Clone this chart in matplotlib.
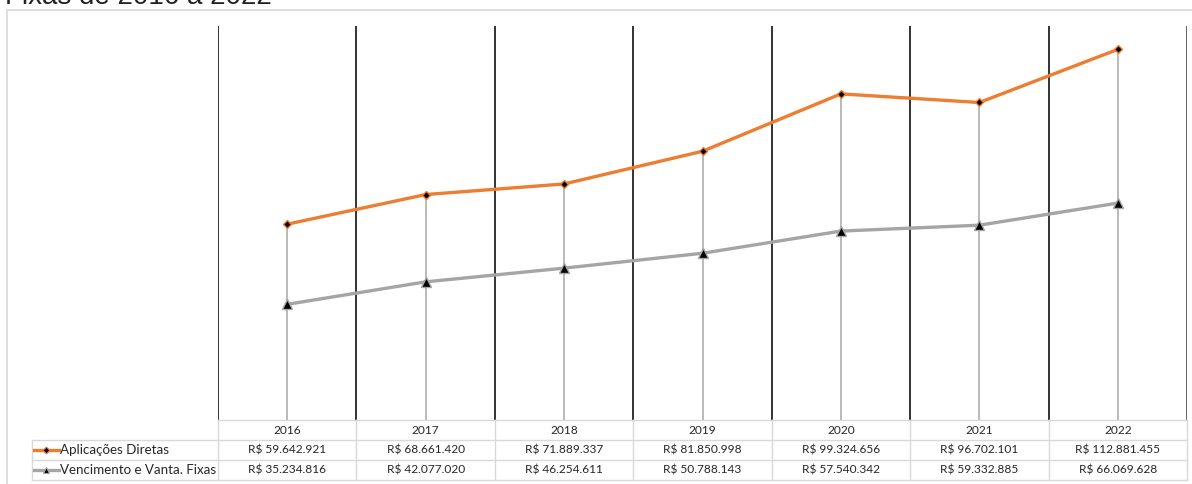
import matplotlib.pyplot as plt
from matplotlib.patches import Rectangle
from matplotlib.lines import Line2D
import matplotlib.transforms as mtransforms

# data
anos = ["2016", "2017", "2018", "2019", "2020", "2021", "2022"]
aplicacoes = [59642921, 68661420, 71889337, 81850998, 99324656, 96702101, 112881455]
vencimentos = [35234816, 42077020, 46254611, 50788143, 57540342, 59332885, 66069628]
series_nomes = ["Aplicações Diretas", "Vencimento e Vanta. Fixas"]

def fmt_real(v):
    return "R$ " + f"{v:,}".replace(",", ".")

W, H = 1192, 484
fig = plt.figure(figsize=(W / 100, H / 100), dpi=100)
fig.patch.set_facecolor("white")

# chart border (cut off by the image edges)
fig.patches.append(Rectangle((7 / W, -0.1), (W + 20) / W, (H - 10) / H + 0.1,
                             transform=fig.transFigure, fill=False,
                             edgecolor="#d9d9d9", linewidth=1.2))

# title, mostly cut off above the image
fig.text(5 / W, 1 - 4 / H, "Fixas de 2016 a 2022", fontsize=20,
         family="Liberation Sans", va="baseline", ha="left", color="#222222")

left, right, top, bottom = 218, 1187, 26, 420
ax = fig.add_axes([left / W, 1 - bottom / H, (right - left) / W, (bottom - top) / H])
ax.set_facecolor("none")
x = list(range(len(anos)))
ax.set_xlim(-0.5, len(anos) - 0.5)
ax.set_ylim(0, 120e6)

orange = "#ED7D31"
gray = "#A5A5A5"

# category separators
for k in range(len(anos) + 1):
    ax.axvline(k - 0.5, color="#111111" if k < len(anos) else "#444444", lw=1.2, zorder=1)

# drop lines
ax.vlines(x, 0, aplicacoes, color="#b4b4b4", lw=1.3, zorder=2)

ax.plot(x, aplicacoes, color=orange, lw=2.4, marker="D", markersize=4.5,
        markerfacecolor="black", markeredgecolor=orange, markeredgewidth=1, zorder=4)
ax.plot(x, vencimentos, color=gray, lw=2.4, marker="^", markersize=7,
        markerfacecolor="black", markeredgecolor=gray, markeredgewidth=1, zorder=4)

for s in ax.spines.values():
    s.set_visible(False)
ax.set_xticks([])
ax.set_yticks([])

# data table below the plot
row_h = 20 / (bottom - top)
trans = mtransforms.blended_transform_factory(ax.transData, ax.transAxes)
grid_c = "#d9d9d9"
tfont = dict(family="Lato", fontsize=8.6, color="#262626")
lfont = dict(family="Lato", fontsize=9.6, color="#262626")
x_left = (32 - left) / (right - left) * len(anos) - 0.5

# horizontal lines of the table
for r in range(4):
    y = -r * row_h
    x0 = -0.5 if r == 0 else x_left
    ax.plot([x0, len(anos) - 0.5], [y, y], transform=trans, color=grid_c,
            lw=1, clip_on=False)
# vertical lines of the table
for k in range(len(anos) + 1):
    ax.plot([k - 0.5, k - 0.5], [0, -3 * row_h], transform=trans, color=grid_c,
            lw=1, clip_on=False)
ax.plot([x_left, x_left], [-row_h, -3 * row_h], transform=trans, color=grid_c,
        lw=1, clip_on=False)

for i, ano in enumerate(anos):
    ax.text(i, -0.5 * row_h, ano, transform=trans, ha="center", va="center", **tfont)
    ax.text(i, -1.5 * row_h, fmt_real(aplicacoes[i]), transform=trans,
            ha="center", va="center", **tfont)
    ax.text(i, -2.5 * row_h, fmt_real(vencimentos[i]), transform=trans,
            ha="center", va="center", **tfont)

# legend keys inside the table
for r, (nome, cor, mk, ms) in enumerate([(series_nomes[0], orange, "D", 3.5),
                                          (series_nomes[1], gray, "^", 5)]):
    yc = 1 - (bottom + 20 * (r + 1) + 10) / H
    fig.lines.append(Line2D([34 / W, 59 / W], [yc, yc], transform=fig.transFigure,
                            color=cor, lw=2.4))
    fig.lines.append(Line2D([46 / W], [yc], transform=fig.transFigure, marker=mk,
                            markersize=ms, markerfacecolor="black",
                            markeredgecolor=cor, markeredgewidth=0.8, linestyle="none"))
    fig.text(60 / W, yc, nome, ha="left", va="center", **lfont)

fig.savefig("out.png", dpi=100)
